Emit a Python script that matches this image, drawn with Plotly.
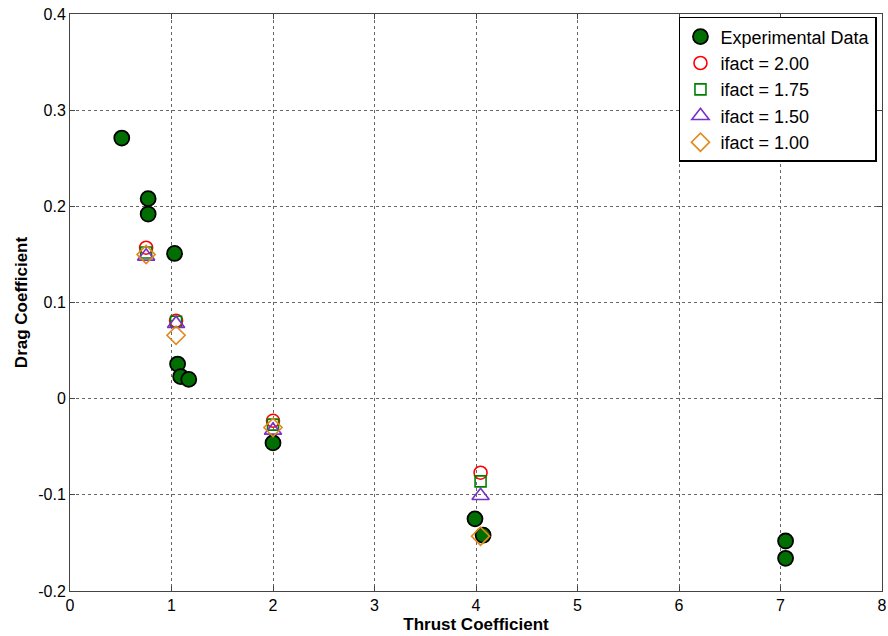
import plotly.graph_objects as go

# Experimental data
exp_x = [0.51, 0.77, 0.77, 1.03, 1.06, 1.09, 1.17, 2.00, 3.99, 4.07, 7.05, 7.05]
exp_y = [0.271, 0.208, 0.192, 0.151, 0.036, 0.023, 0.020, -0.046, -0.125, -0.142, -0.148, -0.166]

# Model predictions
model_x = [0.75, 1.045, 2.00, 4.045]
if200_y = [0.157, 0.081, -0.023, -0.077]
if175_y = [0.152, 0.080, -0.027, -0.086]
if150_y = [0.148, 0.078, -0.033, -0.101]
if100_y = [0.150, 0.066, -0.030, -0.143]

x_ticks = [0, 1, 2, 3, 4, 5, 6, 7, 8]
y_ticks = [-0.2, -0.1, 0, 0.1, 0.2, 0.3, 0.4]
y_tick_text = ["-0.2", "-0.1", "0", "0.1", "0.2", "0.3", "0.4"]

fig = go.Figure()
fig.add_trace(go.Scatter(x=exp_x, y=exp_y, mode="markers", name="Experimental Data",
                         marker=dict(symbol="circle", size=15, color="#006E00",
                                     line=dict(color="black", width=1.8))))
fig.add_trace(go.Scatter(x=model_x, y=if200_y, mode="markers", name="ifact = 2.00",
                         marker=dict(symbol="circle-open", size=13, color="#FF0000",
                                     line=dict(width=1.6))))
fig.add_trace(go.Scatter(x=model_x, y=if175_y, mode="markers", name="ifact = 1.75",
                         marker=dict(symbol="square-open", size=11, color="#008000",
                                     line=dict(width=1.6))))
fig.add_trace(go.Scatter(x=model_x, y=if150_y, mode="markers", name="ifact = 1.50",
                         marker=dict(symbol="triangle-up-open", size=15, color="#7A2FC8",
                                     line=dict(width=1.6))))
fig.add_trace(go.Scatter(x=model_x, y=if100_y, mode="markers", name="ifact = 1.00",
                         marker=dict(symbol="diamond-open", size=14, color="#E08A1A",
                                     line=dict(width=1.6))))

axis_common = dict(showline=True, linecolor="#444444", linewidth=1, mirror="ticks",
                   ticks="inside", ticklen=5, tickcolor="#444444",
                   showgrid=True, gridcolor="#666666", griddash="dot", gridwidth=1,
                   zeroline=False, automargin=False, ticklabeloverflow="allow",
                   tickfont=dict(family="Liberation Sans, Arial", size=16, color="black"))

fig.update_xaxes(range=[0, 8], tickvals=x_ticks, **axis_common,
                 title=dict(text="<b>Thrust Coefficient</b>", standoff=4,
                            font=dict(family="Liberation Sans, Arial", size=17, color="black")))
fig.update_yaxes(range=[-0.2, 0.4], tickvals=y_ticks, ticktext=y_tick_text, **axis_common,
                 title=dict(text="<b>Drag Coefficient</b>", standoff=6,
                            font=dict(family="Liberation Sans, Arial", size=17, color="black")))

fig.update_layout(
    width=888, height=636,
    margin=dict(l=70, r=6, t=14, b=45, autoexpand=False),
    plot_bgcolor="white", paper_bgcolor="white",
    legend=dict(x=0.9938, y=0.995, xanchor="right", yanchor="top",
                bgcolor="white", bordercolor="black", borderwidth=1.5,
                font=dict(family="Liberation Sans, Arial", size=18, color="black"),
                itemwidth=30, tracegroupgap=0),
    showlegend=True,
)

# Remove the default page margin so the figure fills the window exactly.
fig.write_html("out.html", config={"displayModeBar": False},
               post_script="document.body.style.margin='0';document.body.style.overflow='hidden';")
